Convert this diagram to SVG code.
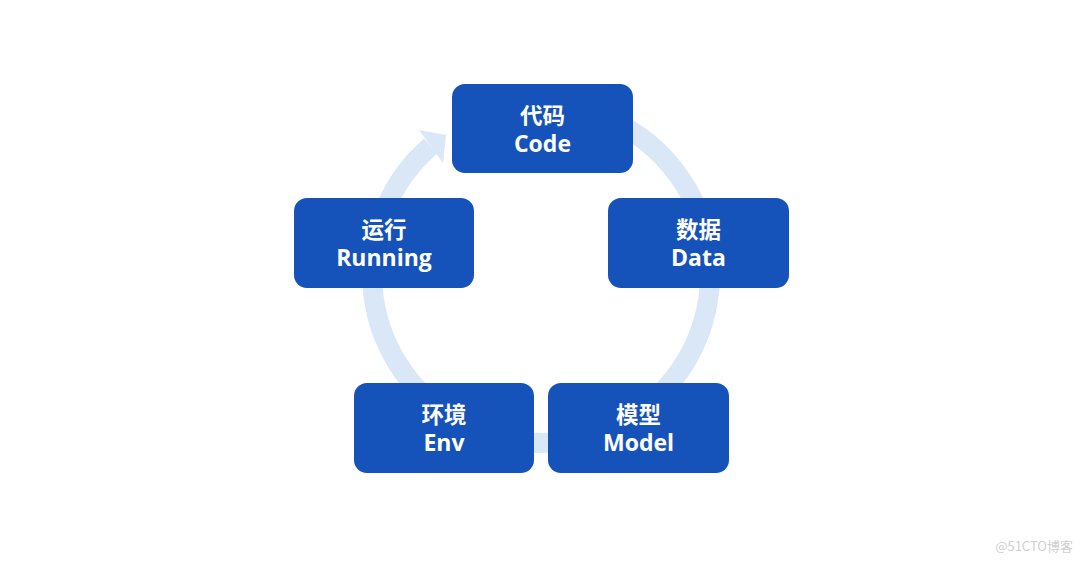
<svg xmlns="http://www.w3.org/2000/svg" width="1080" height="562" viewBox="0 0 1080 562">
<style>
.box{fill:#1552B9;}
.t{fill:#ffffff;font-family:"Noto Sans CJK SC","Noto Sans",sans-serif;font-weight:bold;font-size:22.5px;text-anchor:middle;}
.e{fill:#ffffff;font-family:"Open Sans","Noto Sans",sans-serif;font-weight:bold;font-size:23px;text-anchor:middle;}
.ring{fill:none;stroke:#DAE7F6;stroke-width:20;}
</style>
<rect width="1080" height="562" fill="#ffffff"/>
<g id="connectors">
<path class="ring" d="M 541 105 A 169 169 0 1 1 430.6 146.1"/>
<polygon points="419,130 446,135 443,163" fill="#DAE7F6"/>
</g>
<g id="code">
<rect class="box" x="452" y="84" width="181" height="89" rx="13"/>
<text class="t" x="542.5" y="123.5">代码</text>
<text class="e" x="542.5" y="151.5">Code</text>
</g>
<g id="data">
<rect class="box" x="608" y="198" width="181" height="90" rx="13"/>
<text class="t" x="698.5" y="237.5">数据</text>
<text class="e" x="698.5" y="265.5">Data</text>
</g>
<g id="model">
<rect class="box" x="548" y="383" width="181" height="90" rx="13"/>
<text class="t" x="638.5" y="422.5">模型</text>
<text class="e" x="638.5" y="450.5">Model</text>
</g>
<g id="env">
<rect class="box" x="354" y="383" width="180" height="90" rx="13"/>
<text class="t" x="444" y="422.5">环境</text>
<text class="e" x="444" y="450.5">Env</text>
</g>
<g id="running">
<rect class="box" x="294" y="198" width="180" height="90" rx="13"/>
<text class="t" x="384" y="237.5">运行</text>
<text class="e" x="384" y="265.5">Running</text>
</g>
<text x="1073" y="551" font-family="Noto Sans CJK SC, sans-serif" font-size="13" fill="#d0d0d0" text-anchor="end">@51CTO博客</text>
</svg>
